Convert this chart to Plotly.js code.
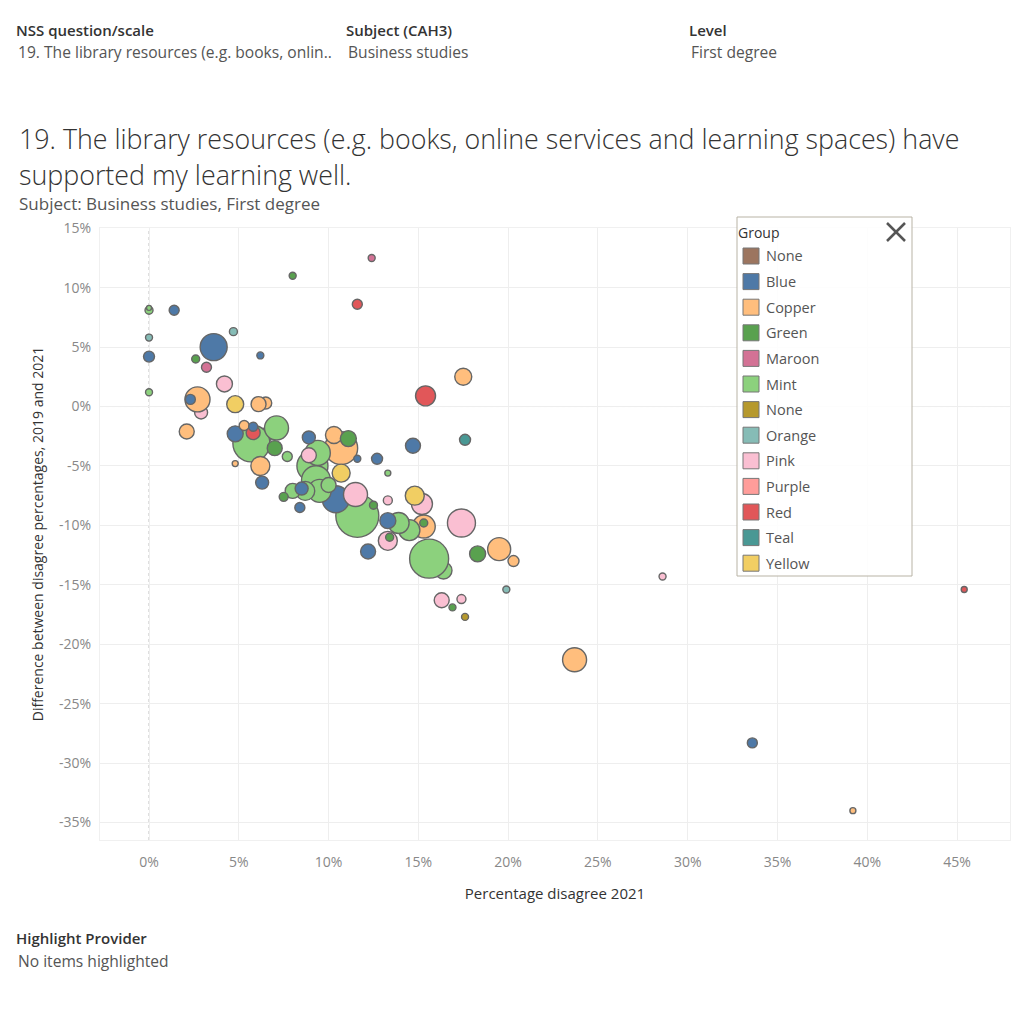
<!DOCTYPE html>
<html><head><meta charset="utf-8">
<script src="https://cdn.plot.ly/plotly-3.0.1.min.js"></script>
<style>html,body{margin:0;padding:0;background:#fff}#chart{width:1024px;height:1024px}</style>
</head><body><div id="chart"></div>
<script>
// ---- Data ----
const groupKeys   = ['None','Blue','Copper','Green','Maroon','Mint','None2','Orange','Pink','Purple','Red','Teal','Yellow'];
const groupLabels = ['None','Blue','Copper','Green','Maroon','Mint','None','Orange','Pink','Purple','Red','Teal','Yellow'];
const groupColors = ['#9c755f','#4e79a7','#ffbe7d','#59a14f','#d37295','#8cd17d','#b6992d','#86bcb6','#fabfd2','#ff9d9a','#e15759','#499894','#f1ce63'];

const pointGroup = ['Mint','Pink','Copper','Green','Mint','Mint','Mint','Copper','Mint','Mint',
  'Pink','Blue','Blue','Mint','Copper','Copper','Mint','Pink','Mint','Copper',
  'Copper','Mint','Mint','Pink','Red','Mint','Copper','Yellow','Pink','Yellow',
  'Yellow','Copper','Copper','Pink','Blue','Green','Green','Blue','Copper','Copper',
  'Green','Mint','Mint','Blue','Pink','Blue','Red','Pink','Blue','Blue',
  'Blue','Blue','Copper','Teal','Blue','Blue','Red','Maroon','Copper','Mint',
  'Blue','Blue','Blue','Green','Pink','Pink','Blue','Green','Mint','Orange',
  'Green','Green','Green','Green','Maroon','Orange','Blue','Mint','Blue','Green',
  'None2','Orange','Pink','Mint','Copper','Red','Copper','Mint'];
const pctDisagree2021 = [16.4,2.9,6.5,6.5,11.6,15.6,5.7,10.7,9.1,9.3,
  17.4,3.6,10.4,9.4,2.7,23.7,7.1,11.5,9.5,15.3,
  19.5,14.5,13.9,15.2,15.4,8.7,6.2,14.8,13.3,10.7,
  4.8,17.5,10.3,4.2,4.8,11.1,18.3,13.3,6.1,2.1,
  7.0,8.0,10.0,14.7,16.3,12.2,5.8,8.9,8.5,8.9,
  6.3,0.0,20.3,17.6,12.7,1.4,11.6,3.2,5.3,7.7,
  2.3,8.4,5.8,7.5,13.3,17.4,33.6,2.6,0.0,4.7,
  15.3,13.4,12.5,8.0,12.4,0.0,6.2,0.0,11.6,16.9,
  17.6,19.9,28.6,13.3,4.8,45.4,39.2,0.0];
const diffDisagree = [-13.8,-0.5,0.3,-2.4,-9.2,-12.8,-3.1,-3.5,-5.0,-6.2,
  -9.8,5.0,-7.8,-3.9,0.6,-21.3,-1.8,-7.4,-7.1,-10.1,
  -12.0,-10.4,-9.8,-8.2,0.9,-7.1,-5.0,-7.5,-11.3,-5.6,
  0.2,2.5,-2.4,1.9,-2.3,-2.7,-12.4,-9.6,0.2,-2.1,
  -3.5,-7.1,-6.6,-3.3,-16.3,-12.2,-2.2,-4.1,-6.9,-2.6,
  -6.4,4.2,-13.0,-2.8,-4.4,8.1,8.6,3.3,-1.6,-4.2,
  0.6,-8.5,-1.7,-7.6,-7.9,-16.2,-28.3,4.0,8.1,6.3,
  -9.8,-11.0,-8.3,11.0,12.5,5.8,4.3,1.2,-4.4,-16.9,
  -17.7,-15.4,-14.3,-5.6,-4.8,-15.4,-34.0,8.3];
const respondents = [324,196,169,225,1936,1600,1444,1156,1024,900,
  841,784,784,676,676,625,625,625,576,576,
  576,484,484,484,441,400,400,400,400,361,
  324,324,324,289,289,289,289,289,256,256,
  256,256,256,256,256,256,225,256,196,196,
  196,144,144,144,144,121,121,121,121,121,
  121,121,100,100,100,100,121,81,81,81,
  81,81,81,64,64,64,64,64,64,64,
  64,64,64,49,49,49,49,36];

const xTickVals = [0,5,10,15,20,25,30,35,40,45];
const xTickText = ['0%','5%','10%','15%','20%','25%','30%','35%','40%','45%'];
const yTickVals = [15,10,5,0,-5,-10,-15,-20,-25,-30,-35];
const yTickText = ['15%','10%','5%','0%','-5%','-10%','-15%','-20%','-25%','-30%','-35%'];

// ---- Geometry helpers (pixel -> paper) ----
const L = 100, R = 1010, T = 228, B = 840;
const px = X => (X - L) / (R - L);
const py = Y => (B - Y) / (B - T);
const FONT = '"Open Sans", Lato, sans-serif';

const colorOf = g => groupColors[groupKeys.indexOf(g)];

const trace = {
  type: 'scatter', mode: 'markers',
  x: pctDisagree2021, y: diffDisagree,
  marker: {
    size: respondents.map(v => Math.sqrt(v) - 1),
    sizemode: 'diameter',
    color: pointGroup.map(colorOf),
    opacity: 1,
    line: {color: '#666666', width: 1.4}
  },
  showlegend: false, hoverinfo: 'skip'
};

const ann = [];
const shapes = [];
function txt(text, X, Y, size, color, weight) {
  ann.push({text: text, xref: 'paper', yref: 'paper',
    x: px(X), y: py(Y), xanchor: 'left', yanchor: 'middle', showarrow: false,
    font: {family: FONT, size: size, color: color, weight: weight || 400}});
}
// header
txt('NSS question/scale', 14, 30, 15, '#333', 600);
txt('19. The library resources (e.g. books, onlin..', 16, 52, 15.6, '#555');
txt('Subject (CAH3)', 344, 30, 15, '#333', 600);
txt('Business studies', 346, 52, 15.6, '#555');
txt('Level', 687, 30, 15, '#333', 600);
txt('First degree', 689, 52, 15.6, '#555');
// title
txt('19. The library resources (e.g. books, online services and learning spaces) have', 17, 138, 26.8, '#333', 300);
txt('supported my learning well.', 17, 174, 26.8, '#333', 300);
txt('Subject: Business studies, First degree', 17, 204, 17, '#555');
// footer
txt('Highlight Provider', 14, 938, 15, '#333', 600);
txt('No items highlighted', 16, 961, 15.6, '#555');

// zero reference lines (dotted)
shapes.push({type: 'line', xref: 'x', yref: 'paper', x0: 0, x1: 0, y0: 0, y1: 1,
  line: {color: '#bdbdbd', width: 1, dash: 'dot'}, layer: 'below'});
shapes.push({type: 'line', xref: 'paper', yref: 'y', x0: 0, x1: 1, y0: 0, y1: 0,
  line: {color: '#bdbdbd', width: 1, dash: 'dot'}, layer: 'below'});

// legend box
shapes.push({type: 'rect', xref: 'paper', yref: 'paper', x0: px(737), x1: px(912), y0: py(217), y1: py(576),
  line: {color: '#b8b3a5', width: 1}, fillcolor: 'rgba(255,255,255,0.85)', layer: 'above'});
// close icon
shapes.push({type: 'line', xref: 'paper', yref: 'paper', x0: px(887), x1: px(905), y0: py(223), y1: py(241),
  line: {color: '#555', width: 2.5}, layer: 'above'});
shapes.push({type: 'line', xref: 'paper', yref: 'paper', x0: px(905), x1: px(887), y0: py(223), y1: py(241),
  line: {color: '#555', width: 2.5}, layer: 'above'});
txt('Group', 736, 232, 14, '#333', 500);
groupLabels.forEach((g, i) => {
  const cy = 256 + i * 25.6;
  shapes.push({type: 'rect', xref: 'paper', yref: 'paper', x0: px(743), x1: px(759), y0: py(cy - 8), y1: py(cy + 8),
    line: {color: '#777', width: 1}, fillcolor: groupColors[i], layer: 'above'});
  txt(g, 764, cy, 14.5, '#555');
});

const layout = {
  width: 1024, height: 1024,
  margin: {l: L, r: 1024 - R, t: T, b: 1024 - B, pad: 0},
  paper_bgcolor: '#fff', plot_bgcolor: '#fff',
  font: {family: FONT, color: '#888'},
  xaxis: {range: [-2.73, 47.95], tickvals: xTickVals, ticktext: xTickText,
    showgrid: true, gridcolor: '#eeeeee', gridwidth: 1, zeroline: false,
    showline: true, linecolor: '#f0f0f0', mirror: true, ticks: '',
    tickfont: {family: FONT, size: 14, color: '#888'}, ticklabelstandoff: 9,
    title: {text: 'Percentage disagree 2021', font: {family: FONT, size: 15, color: '#333', weight: 500}, standoff: 18}},
  yaxis: {range: [-36.47, 15.02], tickvals: yTickVals, ticktext: yTickText,
    showgrid: true, gridcolor: '#eeeeee', gridwidth: 1, zeroline: false,
    showline: true, linecolor: '#f0f0f0', mirror: true, ticks: '',
    tickfont: {family: FONT, size: 14, color: '#888'}, ticklabelstandoff: 5,
    title: {text: 'Difference between disagree percentages, 2019 and 2021', font: {family: FONT, size: 14, color: '#333', weight: 500}, standoff: 12}},
  annotations: ann, shapes: shapes,
  hovermode: false
};
Plotly.newPlot('chart', [trace], layout, {displayModeBar: false, staticPlot: true});
</script></body></html>
